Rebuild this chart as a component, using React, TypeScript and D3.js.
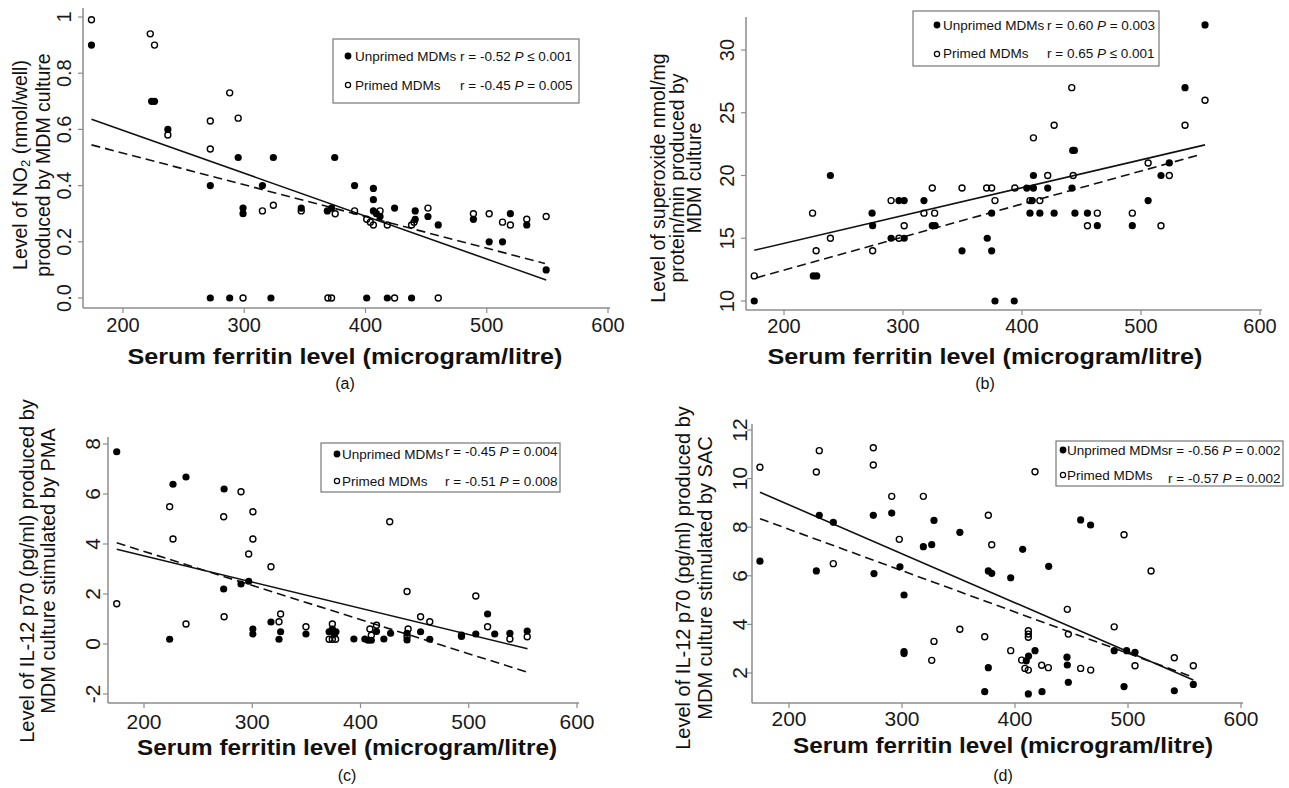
import React, { useEffect, useRef } from 'react';
import * as d3 from 'd3';

type Pt = [number, number];

const FONT = '"Liberation Sans", Arial, Helvetica, sans-serif';
const xTicks = [200, 300, 400, 500, 600];
const xTitle = 'Serum ferritin level (microgram/litre)';

// (a) NO2
const aUnprimed: Pt[] = [
  [174, 0.9], [223.6, 0.7], [226, 0.7], [237, 0.6], [272, 0.4], [295, 0.5], [299, 0.32], [299, 0.3],
  [315, 0.4], [324, 0.5], [347, 0.32], [368.5, 0.31], [372, 0.32], [374.6, 0.5], [391, 0.4],
  [406.5, 0.39], [406.5, 0.35], [406.5, 0.31], [409, 0.3], [412, 0.29], [424, 0.32], [441, 0.31],
  [441, 0.28], [451.5, 0.29], [460, 0.26], [489, 0.28], [502, 0.2], [513, 0.2], [519.5, 0.3],
  [533, 0.26], [549, 0.1], [272, 0], [288, 0], [322, 0], [401, 0], [418, 0], [438, 0],
];
const aPrimed: Pt[] = [
  [174, 0.99], [222.5, 0.94], [226, 0.9], [237, 0.58], [272, 0.63], [272, 0.53], [288, 0.73],
  [295, 0.64], [315, 0.31], [324, 0.33], [347, 0.31], [375, 0.3], [391, 0.31], [401, 0.28],
  [404, 0.27], [406.5, 0.26], [412, 0.31], [418, 0.26], [438, 0.26], [440, 0.27], [451.5, 0.32],
  [489, 0.3], [502, 0.3], [513, 0.27], [519.5, 0.26], [533, 0.28], [549, 0.29],
  [299, 0], [369, 0], [372, 0], [424, 0], [460, 0],
];
const aFitUnprimed: Pt[] = [[174, 0.636], [549, 0.064]];
const aFitPrimed: Pt[] = [[174, 0.545], [548, 0.123]];
const aYTicks = [0, 0.2, 0.4, 0.6, 0.8, 1];
const aYLabels = ['0.0', '0.2', '0.4', '0.6', '0.8', '1'];
const aLegend = [['Unprimed MDMs', 'r = -0.52 ', '≤ 0.001'], ['Primed MDMs', 'r = -0.45 ', '= 0.005']];

// (b) superoxide
const bUnprimed: Pt[] = [
  [175, 10], [224.6, 12], [227.5, 12], [239, 20], [274, 17], [274.5, 16], [290, 15], [296.6, 18],
  [301, 18], [301, 15], [317.6, 18], [324.6, 16], [327, 16], [349.6, 14], [370.8, 15], [374.5, 14],
  [374.5, 17], [377.3, 10], [393.5, 10], [404, 19], [409.6, 19], [409.6, 20], [406.7, 17],
  [408.6, 18], [415, 17], [421.6, 19], [427, 17], [442, 19], [442.6, 22], [444, 22], [444.5, 17],
  [455, 17], [463.3, 16], [492.7, 16], [506, 18], [516.8, 20], [523.8, 21], [537, 27], [553.8, 32],
];
const bPrimed: Pt[] = [
  [175, 12], [224, 17], [227, 14], [239, 15], [274.5, 14], [290, 18], [296.6, 15], [301, 16],
  [317.6, 17], [324.6, 19], [326.6, 17], [349.6, 19], [370.3, 19], [374.5, 19], [377.3, 18],
  [394, 19], [406.7, 18], [409.6, 23], [415, 18], [421.6, 20], [427, 24], [441.8, 27], [443, 20],
  [455, 16], [463.3, 17], [492.7, 17], [506, 21], [516.8, 16], [523.8, 20], [537, 24], [553.8, 26],
];
const bFitUnprimed: Pt[] = [[175, 14.04], [553.8, 22.44]];
const bFitPrimed: Pt[] = [[177, 11.86], [551, 21.7]];
const bYTicks = [10, 15, 20, 25, 30];
const bYLabels = ['10', '15', '20', '25', '30'];
const bLegend = [['Unprimed MDMs', 'r = 0.60 ', '= 0.003'], ['Primed MDMs', 'r = 0.65 ', '≤ 0.001']];

// (c) IL-12 / PMA
const cUnprimed: Pt[] = [
  [174.8, 7.69], [223.7, 0.19], [226.8, 6.39], [238.8, 6.68], [274, 6.2], [273.6, 2.2], [289.6, 2.4],
  [296.7, 2.51], [300.6, 0.6], [300.6, 0.4], [317.3, 0.88], [326.2, 0.49], [324.7, 0.19],
  [349.6, 0.4], [371, 0.49], [377.3, 0.49], [374, 0.6], [376, 0.4], [393.9, 0.2], [404, 0.2],
  [407, 0.15], [410, 0.15], [414.8, 0.5], [421.6, 0.2], [427.8, 0.43], [443, 0.43], [443, 0.16],
  [455.5, 0.49], [464, 0.19], [493.3, 0.3], [506.5, 0.4], [517.4, 1.2], [524, 0.4], [538, 0.43],
  [554, 0.52],
];
const cPrimed: Pt[] = [
  [174.8, 1.61], [223.7, 5.49], [226.8, 4.2], [238.8, 0.8], [273.6, 5.09], [274, 1.09],
  [289.6, 6.09], [296.7, 3.6], [300.6, 5.29], [300.6, 4.2], [317.3, 3.09], [326.2, 1.2],
  [324.7, 0.89], [349.6, 0.69], [374, 0.8], [371, 0.19], [374, 0.19], [377, 0.19], [408.7, 0.6],
  [410, 0.35], [414.8, 0.75], [427, 4.89], [443, 2.1], [444, 0.6], [443, 0.3], [455.5, 1.09],
  [464, 0.89], [493.3, 0.35], [506.5, 1.92], [517.4, 0.69], [538, 0.2], [554, 0.29],
];
const cFitUnprimed: Pt[] = [[174.8, 3.79], [554.3, -0.19]];
const cFitPrimed: Pt[] = [[174.8, 4.05], [554.3, -1.13]];
const cYTicks = [-2, 0, 2, 4, 6, 8];
const cYLabels = ['-2', '0', '2', '4', '6', '8'];
const cLegend = [['Unprimed MDMs', 'r = -0.45 ', '= 0.004'], ['Primed MDMs', 'r = -0.51 ', '= 0.008']];

// (d) IL-12 / SAC
const dUnprimed: Pt[] = [
  [174.3, 6.6], [226.8, 8.49], [224.2, 6.2], [239.2, 8.2], [274.6, 8.49], [275.2, 6.09],
  [290.9, 8.58], [298.2, 6.37], [301.8, 5.21], [301.8, 2.88], [301.8, 2.8], [318.9, 7.2],
  [326.3, 7.28], [328.3, 8.28], [351.2, 7.79], [373.2, 1.23], [376.4, 6.2], [379.4, 6.1],
  [376.4, 2.22], [396.2, 5.92], [406.8, 7.09], [410, 2.5], [412, 2.7], [411.8, 1.14], [417.7, 2.92],
  [423.9, 1.23], [429.8, 6.39], [446, 2.65], [446.3, 2.33], [447.2, 1.62], [458.1, 8.3],
  [466.9, 8.09], [487.8, 2.92], [496.5, 1.44], [498.8, 2.92], [506.2, 2.85], [541, 1.27],
  [557.8, 1.53],
];
const dPrimed: Pt[] = [
  [174.3, 10.47], [224.2, 10.27], [226.8, 11.15], [239.2, 6.5], [274.6, 11.27], [274.6, 10.56],
  [290.9, 9.27], [297.6, 7.5], [318.9, 9.27], [328.3, 3.3], [326.3, 2.52], [351.2, 3.8],
  [373.2, 3.49], [376.4, 8.49], [379.4, 7.28], [396.2, 2.92], [405.9, 2.53], [408.8, 2.19],
  [411.8, 2.12], [411.8, 3.74], [411.8, 3.6], [411.8, 3.47], [417.7, 10.28], [423.6, 2.32],
  [429.5, 2.22], [446.3, 4.62], [447.2, 3.6], [458.1, 2.19], [467, 2.12], [487.8, 3.9],
  [496.5, 7.69], [506.2, 2.3], [520.4, 6.2], [541, 2.63], [557.8, 2.3],
];
const dFitUnprimed: Pt[] = [[174.3, 9.44], [557.8, 1.71]];
const dFitPrimed: Pt[] = [[174.3, 8.35], [556.4, 1.85]];
const dYTicks = [2, 4, 6, 8, 10, 12];
const dYLabels = ['2', '4', '6', '8', '10', '12'];
const dLegend = [['Unprimed MDMs', 'r = -0.56 ', '= 0.002'], ['Primed MDMs', 'r = -0.57 ', '= 0.002']];

// layout for each panel (pixels)
const PANELS = [
  {
    tag: '(a)', unprimed: aUnprimed, primed: aPrimed, fitU: aFitUnprimed, fitP: aFitPrimed,
    yTicks: aYTicks, yLabels: aYLabels, yDomain: [0, 1], yRange: [298, 17], xRange: [123, 608],
    axisX: 83, axisY: 308, axisTop: 8, yLabX: 64, xLabY: 325, tickFont: 20, titleFont: 19.5,
    yTitle: ['Level of NO_2 (nmol/well)', 'produced by MDM culture'], yTitleX: [20, 43], yTitleY: 165,
    xTitleX: 345, xTitleY: 356, xTitleLen: 435, tagX: 345, tagY: 383,
    legend: aLegend, box: [333, 39, 246, 64], mX: 348, tX: 355, rX: 460, rows: [56, 85], base: [61, 90], rBase: [61, 90],
  },
  {
    tag: '(b)', unprimed: bUnprimed, primed: bPrimed, fitU: bFitUnprimed, fitP: bFitPrimed,
    yTicks: bYTicks, yLabels: bYLabels, yDomain: [10, 30], yRange: [301, 50], xRange: [784, 1260],
    axisX: 746, axisY: 310, axisTop: 17, yLabX: 727, xLabY: 326, tickFont: 20, titleFont: 19.5,
    yTitle: ['Level of superoxide nmol/mg', 'protein/min produced by', 'MDM culture'], yTitleX: [658, 677, 694], yTitleY: 178,
    xTitleX: 985, xTitleY: 356, xTitleLen: 435, tagX: 985, tagY: 383,
    legend: bLegend, box: [913, 11, 246, 55], mX: 937, tX: 943, rX: 1047, rows: [25, 54], base: [30, 58], rBase: [30, 58],
  },
  {
    tag: '(c)', unprimed: cUnprimed, primed: cPrimed, fitU: cFitUnprimed, fitP: cFitPrimed,
    yTicks: cYTicks, yLabels: cYLabels, yDomain: [-2, 8], yRange: [694, 444], xRange: [144, 577],
    axisX: 108, axisY: 703, axisTop: 437, yLabX: 92, xLabY: 721, tickFont: 21, titleFont: 20,
    yTitle: ['Level of IL-12 p70 (pg/ml) produced by', 'MDM culture stimulated by PMA'], yTitleX: [27, 48], yTitleY: 571,
    xTitleX: 347, xTitleY: 747, xTitleLen: 420, tagX: 347, tagY: 775,
    legend: cLegend, box: [321, 443, 239, 49], mX: 337, tX: 342, rX: 445, rows: [454, 481], base: [459, 486], rBase: [456, 486],
  },
  {
    tag: '(d)', unprimed: dUnprimed, primed: dPrimed, fitU: dFitUnprimed, fitP: dFitPrimed,
    yTicks: dYTicks, yLabels: dYLabels, yDomain: [2, 12], yRange: [673, 430], xRange: [789, 1241],
    axisX: 752, axisY: 703, axisTop: 424, yLabX: 739, xLabY: 718, tickFont: 21, titleFont: 20,
    yTitle: ['Level of IL-12 p70 (pg/ml) produced by', 'MDM culture stimulated by SAC'], yTitleX: [683, 705], yTitleY: 578,
    xTitleX: 1003, xTitleY: 745, xTitleLen: 420, tagX: 1003, tagY: 775,
    legend: dLegend, box: [1056, 441, 227, 45], mX: 1063, tX: 1067, rX: 1168, rows: [450, 475], base: [455, 480], rBase: [455, 483],
  },
];

const AXIS = '#8c8c8c';

function drawPanel(svg: any, p: any) {
  const x = d3.scaleLinear().domain([200, 600]).range(p.xRange);
  const y = d3.scaleLinear().domain(p.yDomain).range(p.yRange);
  const g = svg.append('g');

  // axes
  g.append('line')
    .attr('x1', p.axisX).attr('x2', p.axisX).attr('y1', p.axisTop).attr('y2', p.axisY)
    .attr('stroke', AXIS).attr('stroke-width', 1.5);
  g.append('line')
    .attr('x1', p.axisX).attr('x2', x(600) + 2).attr('y1', p.axisY).attr('y2', p.axisY)
    .attr('stroke', AXIS).attr('stroke-width', 1.5);

  xTicks.forEach(t => {
    g.append('line')
      .attr('x1', x(t)).attr('x2', x(t)).attr('y1', p.axisY).attr('y2', p.axisY + 5)
      .attr('stroke', AXIS).attr('stroke-width', 1.2);
    g.append('text')
      .attr('x', x(t)).attr('y', p.xLabY)
      .attr('text-anchor', 'middle').attr('dominant-baseline', 'central')
      .style('font-size', p.tickFont + 'px').attr('fill', '#1a1a1a')
      .text(String(t));
  });

  p.yTicks.forEach((t: number, i: number) => {
    g.append('line')
      .attr('x1', p.axisX - 5).attr('x2', p.axisX).attr('y1', y(t)).attr('y2', y(t))
      .attr('stroke', AXIS).attr('stroke-width', 1.2);
    g.append('text')
      .attr('transform', `translate(${p.yLabX},${y(t)}) rotate(-90)`)
      .attr('text-anchor', 'middle').attr('dominant-baseline', 'central')
      .style('font-size', p.tickFont + 'px').attr('fill', '#1a1a1a')
      .text(p.yLabels[i]);
  });

  // y title
  p.yTitle.forEach((line: string, i: number) => {
    const t = g.append('text')
      .attr('transform', `translate(${p.yTitleX[i]},${p.yTitleY}) rotate(-90)`)
      .attr('text-anchor', 'middle').attr('dominant-baseline', 'central')
      .style('font-size', p.titleFont + 'px').attr('fill', '#111');
    if (line.includes('_2')) {
      const [pre, post] = line.split('_2');
      t.append('tspan').text(pre);
      t.append('tspan').attr('dy', 5).style('font-size', '13px').text('2');
      t.append('tspan').attr('dy', -5).text(post);
    } else {
      t.text(line);
    }
  });

  // x title + tag
  g.append('text')
    .attr('x', p.xTitleX).attr('y', p.xTitleY)
    .attr('text-anchor', 'middle').attr('dominant-baseline', 'central')
    .attr('textLength', p.xTitleLen).attr('lengthAdjust', 'spacingAndGlyphs')
    .style('font-size', '22px').style('font-weight', 'bold').attr('fill', '#111')
    .text(xTitle);
  g.append('text')
    .attr('x', p.tagX).attr('y', p.tagY)
    .attr('text-anchor', 'middle').attr('dominant-baseline', 'central')
    .style('font-size', '16px').attr('fill', '#111')
    .text(p.tag);

  // fitted lines
  const line = d3.line<Pt>().x(d => x(d[0])).y(d => y(d[1]));
  g.append('path').attr('d', line(p.fitU)).attr('stroke', '#111').attr('stroke-width', 1.6).attr('fill', 'none');
  g.append('path').attr('d', line(p.fitP)).attr('stroke', '#111').attr('stroke-width', 1.6)
    .attr('stroke-dasharray', '9 5').attr('fill', 'none');

  // points
  g.selectAll('circle.u').data(p.unprimed).join('circle')
    .attr('class', 'u')
    .attr('cx', (d: Pt) => x(d[0])).attr('cy', (d: Pt) => y(d[1]))
    .attr('r', 3.6).attr('fill', '#000');
  g.selectAll('circle.p').data(p.primed).join('circle')
    .attr('class', 'p')
    .attr('cx', (d: Pt) => x(d[0])).attr('cy', (d: Pt) => y(d[1]))
    .attr('r', 3).attr('fill', 'none').attr('stroke', '#000').attr('stroke-width', 1.4);

  // legend
  const [bx, by, bw, bh] = p.box;
  g.append('rect').attr('x', bx).attr('y', by).attr('width', bw).attr('height', bh)
    .attr('fill', '#fff').attr('stroke', '#777').attr('stroke-width', 1.2);
  p.legend.forEach((row: string[], i: number) => {
    const c = g.append('circle').attr('cx', p.mX).attr('cy', p.rows[i]);
    if (i === 0) c.attr('r', 3.4).attr('fill', '#000');
    else c.attr('r', 2.6).attr('fill', 'none').attr('stroke', '#000').attr('stroke-width', 1.2);
    g.append('text').attr('x', p.tX).attr('y', p.base[i])
      .style('font-size', '13.5px').attr('fill', '#111').text(row[0]);
    const r = g.append('text').attr('x', p.rX).attr('y', p.rBase[i])
      .style('font-size', '13.5px').attr('fill', '#111');
    r.append('tspan').text(row[1]);
    r.append('tspan').style('font-style', 'italic').text('P');
    r.append('tspan').text(' ' + row[2]);
  });
}

export default function App() {
  const svgRef = useRef<SVGSVGElement>(null);

  useEffect(() => {
    const svg = d3.select(svgRef.current);
    svg.selectAll('*').remove();
    PANELS.forEach(p => drawPanel(svg, p));
  }, []);

  return (
    <svg
      ref={svgRef}
      width={1289}
      height={788}
      style={{ position: 'absolute', left: 0, top: 0, background: '#fff', fontFamily: FONT }}
    />
  );
}
